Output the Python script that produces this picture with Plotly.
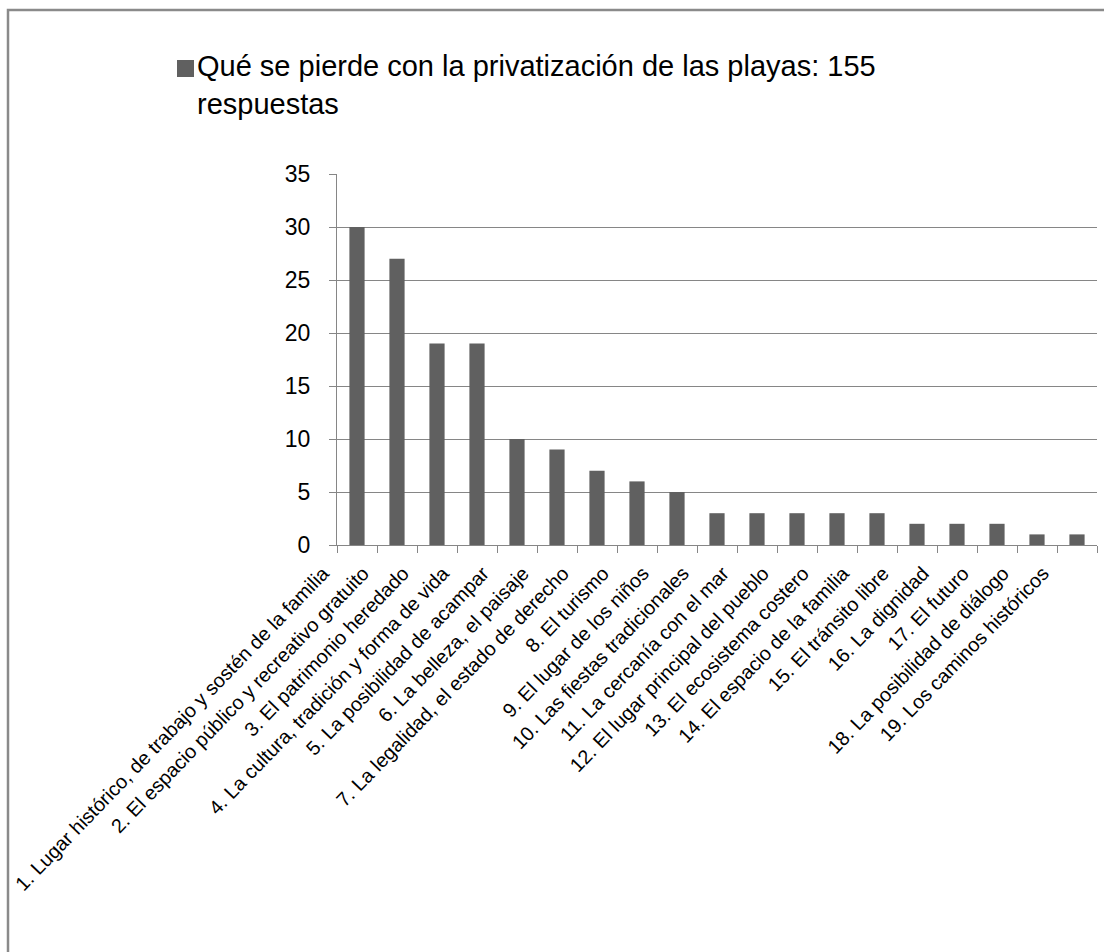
import plotly.graph_objects as go

categories = [
    "1. Lugar histórico, de trabajo y sostén de la familia",
    "2. El espacio público y recreativo gratuito",
    "3. El patrimonio heredado",
    "4. La cultura, tradición y forma de vida",
    "5. La posibilidad de acampar",
    "6. La belleza, el paisaje",
    "7. La legalidad, el estado de derecho",
    "8. El turismo",
    "9. El lugar de los niños",
    "10. Las fiestas tradicionales",
    "11. La cercanía con el mar",
    "12. El lugar principal del pueblo",
    "13. El ecosistema costero",
    "14. El espacio de la familia",
    "15. El tránsito libre",
    "16. La dignidad",
    "17. El futuro",
    "18. La posibilidad de diálogo",
    "19. Los caminos históricos",
]
values = [30, 27, 19, 19, 10, 9, 7, 6, 5, 3, 3, 3, 3, 3, 2, 2, 2, 1, 1]
series_name = "Qué se pierde con la privatización de las playas: 155<br>respuestas"
y_ticks = [0, 5, 10, 15, 20, 25, 30, 35]
bar_color = "#606060"

fig = go.Figure()
fig.add_trace(go.Bar(
    x=categories, y=values, name=series_name,
    marker=dict(color=bar_color, line=dict(width=0)),
    showlegend=False,
))

W, H = 1104, 952
L, R, T, B = 337, 7, 174, 407
pw, ph = W - L - R, H - T - B

def px_x(p):
    return (p - L) / pw

def px_y(p):
    return (H - B - p) / ph

fig.update_layout(
    width=W, height=H,
    margin=dict(l=L, r=R, t=T, b=B, autoexpand=False),
    paper_bgcolor="white", plot_bgcolor="white",
    bargap=0.62,
    font=dict(family="Liberation Sans, Arial", color="black"),
    xaxis=dict(
        type="category",
        tickangle=-46,
        tickfont=dict(size=19.8, family="Liberation Sans, Arial", color="black"),
        showline=True, linecolor="#868686", linewidth=1,
        ticks="outside", ticklen=7, tickcolor="#868686",
        tickson="boundaries",
        ticklabelshift=-34,
        ticklabelstandoff=8,
        showgrid=False,
        automargin=False,
    ),
    yaxis=dict(
        range=[0, 35],
        tickvals=y_ticks,
        tickfont=dict(size=23, family="Liberation Sans, Arial", color="black"),
        showline=True, linecolor="#868686", linewidth=1,
        ticks="outside", ticklen=7, tickcolor="#868686",
        ticklabelstandoff=14,
        showgrid=True, gridcolor="#868686", gridwidth=1,
        zeroline=False,
        automargin=False,
    ),
    shapes=[
        dict(type="rect", xref="paper", yref="paper",
             x0=px_x(8), x1=px_x(1112), y0=px_y(960), y1=px_y(10),
             line=dict(color="#8a8a8a", width=2.5), fillcolor="rgba(0,0,0,0)", layer="below"),
        # legend key
        dict(type="rect", xref="paper", yref="paper",
             x0=px_x(177), x1=px_x(194), y0=px_y(77), y1=px_y(60),
             line=dict(width=0), fillcolor=bar_color),
    ],
    annotations=[
        dict(text=series_name, xref="paper", yref="paper",
             x=px_x(195), y=px_y(48), xanchor="left", yanchor="top",
             align="left", showarrow=False,
             font=dict(size=29, family="Liberation Sans, Arial", color="black")),
    ],
)

fig.write_html("out.html", config={"displayModeBar": False},
               post_script="document.body.style.margin='0';document.body.style.overflow='hidden';")
